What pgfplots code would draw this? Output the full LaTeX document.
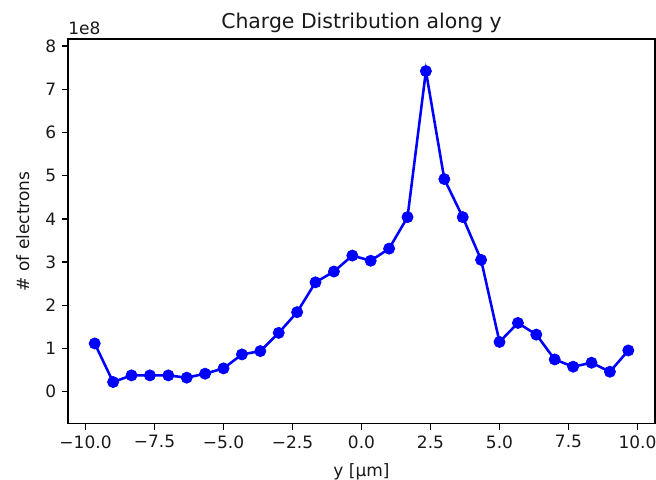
\documentclass[border=0pt]{standalone}
\usepackage{fontspec}
\setmainfont{DejaVu Sans}
\usepackage{pgfplots}
\pgfplotsset{compat=1.18}
\begin{document}
\begin{tikzpicture}
\begin{axis}[
  name=ax,
  scale only axis, width=345pt, height=226pt,
  xmin=-10.633, xmax=10.633, ymin=-0.74, ymax=8.16,
  xtick={-10,-7.5,-5,-2.5,0,2.5,5,7.5,10},
  xticklabels={−10.0,−7.5,−5.0,−2.5,0.0,2.5,5.0,7.5,10.0},
  ytick={0,1,2,3,4,5,6,7,8},
  yticklabels={0,1,2,3,4,5,6,7,8},
  tick align=outside, tick pos=left,
  major tick length=3.5pt,
  every tick/.style={black, line width=0.8pt},
  axis line style={black, line width=0.8pt},
  tick label style={font=\fontsize{10}{12}\selectfont, text=black!90},
  title={Charge Distribution along y},
  title style={font=\fontsize{12}{14}\selectfont, text=black!90, yshift=-5.5pt},
  xlabel={y [µm]}, ylabel={\# of electrons},
  label style={font=\fontsize{10}{12}\selectfont, text=black!90},
  xlabel style={yshift=-2pt},
  ylabel style={yshift=2.5pt},
  clip=false,
]
\addplot[blue, line width=1.5pt, mark=*, mark size=3.3pt, mark options={solid, fill=blue, draw=blue, line width=0.4pt}] coordinates {
(-9.667,1.115) (-9.000,0.222) (-8.333,0.376) (-7.667,0.376) (-7.000,0.376)
(-6.333,0.323) (-5.667,0.415) (-5.000,0.538) (-4.333,0.861) (-3.667,0.938)
(-3.000,1.36) (-2.333,1.84) (-1.667,2.53) (-1.000,2.78) (-0.333,3.15)
(0.333,3.03) (1.000,3.31) (1.667,4.04) (2.333,7.42) (3.000,4.92)
(3.667,4.04) (4.333,3.05) (5.000,1.15) (5.667,1.59) (6.333,1.32)
(7.000,0.745) (7.667,0.577) (8.333,0.669) (9.000,0.46) (9.667,0.953)
};
\node[anchor=south west, font=\fontsize{10}{12}\selectfont, text=black!90, inner xsep=0pt, inner ysep=2.4pt] at (rel axis cs:0,1) {1e8};
\end{axis}
\pgfresetboundingbox
\path ([xshift=-40pt,yshift=-33pt]ax.south west) rectangle ([xshift=0.6pt,yshift=23pt]ax.north east);
\end{tikzpicture}
\end{document}
